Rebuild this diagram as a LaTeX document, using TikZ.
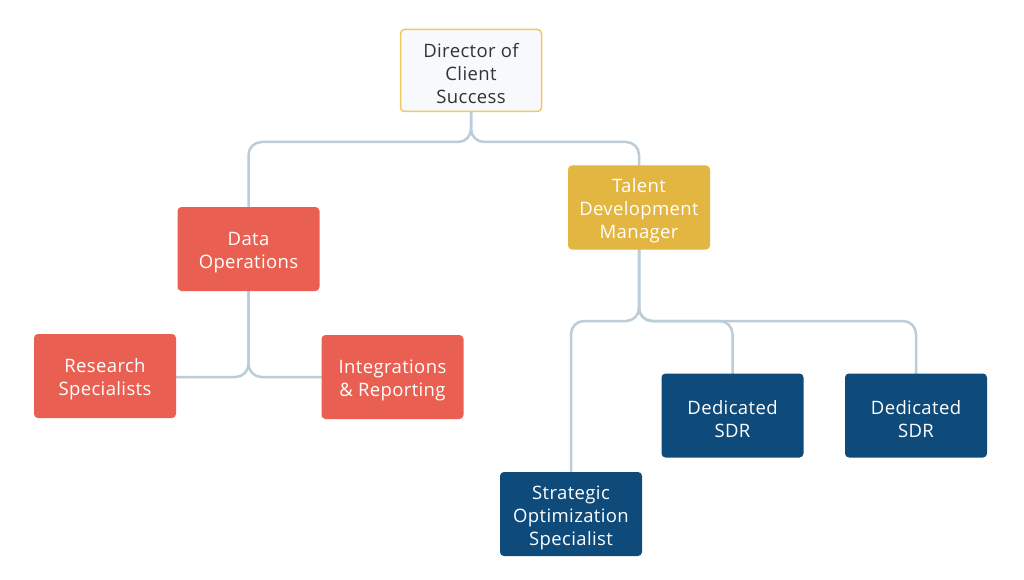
\documentclass[tikz,border=0pt]{standalone}
\usepackage{fontspec}
\setmainfont{Open Sans}[LetterSpace=2]
\definecolor{conncol}{HTML}{BACDD8}
\definecolor{redbox}{HTML}{E96052}
\definecolor{goldbox}{HTML}{E3B541}
\definecolor{bluebox}{HTML}{0E4A7A}
\definecolor{topfill}{HTML}{F7F9FC}
\definecolor{topborder}{HTML}{F0C860}
\definecolor{toptext}{HTML}{333333}
\newcommand{\boxtext}[1]{\raisebox{-3.5pt}[\height][\depth]{\parbox{130pt}{\centering #1}}}
\begin{document}
\begin{tikzpicture}[x=1pt,y=-1pt,
  box/.style={rectangle, rounded corners=4pt, minimum width=142pt, minimum height=84pt,
    align=center, font=\fontsize{18.5}{23}\selectfont, inner sep=2pt},
  topbox/.style={box, fill=topfill, draw=topborder, line width=1.5pt, text=toptext, minimum width=141pt, minimum height=82pt},
  redb/.style={box, fill=redbox, text=white},
  goldb/.style={box, fill=goldbox, text=white},
  blueb/.style={box, fill=bluebox, text=white},
  conn/.style={draw=conncol, line width=2.5pt, rounded corners=13pt}
]
\useasboundingbox[fill=white] (0,0) rectangle (1024,580);

\coordinate (j1) at (471,142);
\coordinate (j2) at (248.5,377);
\coordinate (j3) at (639,321);

\draw[conn] (471,100) -- (j1) -| (248.5,240);
\draw[conn] (471,100) -- (j1) -| (639,200);
\draw[conn] (248.5,260) -- (j2) -- (140,377);
\draw[conn] (248.5,260) -- (j2) -- (360,377);
\draw[conn] (639,240) -- (j3) -| (571,500);
\draw[conn] (639,240) -- (j3) -| (732.5,400);
\draw[conn] (639,240) -- (j3) -| (916,400);

\node[topbox] (dir) at (471,70.5) {\boxtext{Director of\\Client\\Success}};
\node[redb] (dops) at (248.5,249) {\boxtext{Data\\Operations}};
\node[goldb] (tdm) at (639,207.5) {\boxtext{Talent\\Development\\Manager}};
\node[redb] (rs) at (105,376) {\boxtext{Research\\Specialists}};
\node[redb] (ir) at (392.5,377) {\boxtext{Integrations\\\& Reporting}};
\node[blueb] (sos) at (571,514) {\boxtext{Strategic\\Optimization\\Specialist}};
\node[blueb] (sdr1) at (732.5,415.5) {\boxtext{Dedicated\\SDR}};
\node[blueb] (sdr2) at (916,415.5) {\boxtext{Dedicated\\SDR}};
\end{tikzpicture}
\end{document}
